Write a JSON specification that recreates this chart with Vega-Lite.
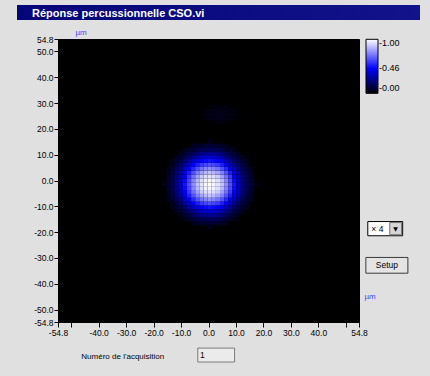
{
  "$schema": "https://vega.github.io/schema/vega-lite/v6.json",
  "padding": {"left": 17, "top": 5, "right": 12, "bottom": 16},
  "background": "#e0e0e0",
  "spacing": 7,
  "vconcat": [
    {
      "width": 403,
      "height": 15,
      "view": {"fill": "#08087e", "stroke": null},
      "title": {"text": "Réponse percussionnelle CSO.vi", "anchor": "start", "frame": "group", "color": "#ffffff", "font": "Liberation Sans", "fontSize": 11, "fontWeight": "bold", "offset": -14, "dx": 15},
      "data": {"values": [{"w": "barre"}]},
      "mark": {"type": "rect", "color": {"gradient": "linear", "x1": 0, "x2": 1, "y1": 0, "y2": 0, "stops": [{"offset": 0, "color": "#05057a"}, {"offset": 1, "color": "#12128a"}]}},
      "encoding": {}
    },
    {
      "spacing": 0,
      "hconcat": [
        {
          "width": 1,
          "height": 283,
          "data": {"values": []},
          "mark": {"type": "rect"},
          "encoding": {}
        },
        {
          "width": 301,
          "height": 283,
          "view": {"fill": "#000000", "stroke": "#000000"},
          "layer": [
            {
              "data": {"values": [
                {"x":-17,"y":-2,"v":0.05},{"x":-15.5,"y":-2,"v":0.095},{"x":-14,"y":-2,"v":0.16},{"x":-12.5,"y":-2,"v":0.26},{"x":-11,"y":-2,"v":0.37},{"x":-9.5,"y":-2,"v":0.50},{"x":-8,"y":-2,"v":0.63},{"x":-6.5,"y":-2,"v":0.76},{"x":-5,"y":-2,"v":0.87},{"x":-3.5,"y":-2,"v":0.94},{"x":-2,"y":-2,"v":0.98},{"x":-0.5,"y":-2,"v":1.00},{"x":1,"y":-2,"v":0.98},{"x":2.5,"y":-2,"v":0.94},{"x":4,"y":-2,"v":0.87},{"x":5.5,"y":-2,"v":0.76},{"x":7,"y":-2,"v":0.63},{"x":8.5,"y":-2,"v":0.50},{"x":10,"y":-2,"v":0.37},{"x":11.5,"y":-2,"v":0.26},{"x":13,"y":-2,"v":0.16},{"x":14.5,"y":-2,"v":0.095},{"x":16,"y":-2,"v":0.05},

                {"x":-15.5,"y":-0.5,"v":0.09},{"x":-14,"y":-0.5,"v":0.15},{"x":-12.5,"y":-0.5,"v":0.25},{"x":-11,"y":-0.5,"v":0.36},{"x":-9.5,"y":-0.5,"v":0.48},{"x":-8,"y":-0.5,"v":0.61},{"x":-6.5,"y":-0.5,"v":0.74},{"x":-5,"y":-0.5,"v":0.85},{"x":-3.5,"y":-0.5,"v":0.93},{"x":-2,"y":-0.5,"v":0.97},{"x":-0.5,"y":-0.5,"v":0.98},{"x":1,"y":-0.5,"v":0.97},{"x":2.5,"y":-0.5,"v":0.93},{"x":4,"y":-0.5,"v":0.85},{"x":5.5,"y":-0.5,"v":0.74},{"x":7,"y":-0.5,"v":0.61},{"x":8.5,"y":-0.5,"v":0.48},{"x":10,"y":-0.5,"v":0.36},{"x":11.5,"y":-0.5,"v":0.25},{"x":13,"y":-0.5,"v":0.15},{"x":14.5,"y":-0.5,"v":0.09},
                {"x":-15.5,"y":-3.5,"v":0.09},{"x":-14,"y":-3.5,"v":0.15},{"x":-12.5,"y":-3.5,"v":0.25},{"x":-11,"y":-3.5,"v":0.36},{"x":-9.5,"y":-3.5,"v":0.48},{"x":-8,"y":-3.5,"v":0.61},{"x":-6.5,"y":-3.5,"v":0.74},{"x":-5,"y":-3.5,"v":0.85},{"x":-3.5,"y":-3.5,"v":0.93},{"x":-2,"y":-3.5,"v":0.97},{"x":-0.5,"y":-3.5,"v":0.98},{"x":1,"y":-3.5,"v":0.97},{"x":2.5,"y":-3.5,"v":0.93},{"x":4,"y":-3.5,"v":0.85},{"x":5.5,"y":-3.5,"v":0.74},{"x":7,"y":-3.5,"v":0.61},{"x":8.5,"y":-3.5,"v":0.48},{"x":10,"y":-3.5,"v":0.36},{"x":11.5,"y":-3.5,"v":0.25},{"x":13,"y":-3.5,"v":0.15},{"x":14.5,"y":-3.5,"v":0.09},

                {"x":-15.5,"y":1,"v":0.08},{"x":-14,"y":1,"v":0.14},{"x":-12.5,"y":1,"v":0.24},{"x":-11,"y":1,"v":0.34},{"x":-9.5,"y":1,"v":0.45},{"x":-8,"y":1,"v":0.58},{"x":-6.5,"y":1,"v":0.70},{"x":-5,"y":1,"v":0.80},{"x":-3.5,"y":1,"v":0.89},{"x":-2,"y":1,"v":0.93},{"x":-0.5,"y":1,"v":0.94},{"x":1,"y":1,"v":0.93},{"x":2.5,"y":1,"v":0.89},{"x":4,"y":1,"v":0.80},{"x":5.5,"y":1,"v":0.70},{"x":7,"y":1,"v":0.58},{"x":8.5,"y":1,"v":0.45},{"x":10,"y":1,"v":0.34},{"x":11.5,"y":1,"v":0.24},{"x":13,"y":1,"v":0.14},{"x":14.5,"y":1,"v":0.08},
                {"x":-15.5,"y":-5,"v":0.08},{"x":-14,"y":-5,"v":0.14},{"x":-12.5,"y":-5,"v":0.24},{"x":-11,"y":-5,"v":0.34},{"x":-9.5,"y":-5,"v":0.45},{"x":-8,"y":-5,"v":0.58},{"x":-6.5,"y":-5,"v":0.70},{"x":-5,"y":-5,"v":0.80},{"x":-3.5,"y":-5,"v":0.89},{"x":-2,"y":-5,"v":0.93},{"x":-0.5,"y":-5,"v":0.94},{"x":1,"y":-5,"v":0.93},{"x":2.5,"y":-5,"v":0.89},{"x":4,"y":-5,"v":0.80},{"x":5.5,"y":-5,"v":0.70},{"x":7,"y":-5,"v":0.58},{"x":8.5,"y":-5,"v":0.45},{"x":10,"y":-5,"v":0.34},{"x":11.5,"y":-5,"v":0.24},{"x":13,"y":-5,"v":0.14},{"x":14.5,"y":-5,"v":0.08},

                {"x":-15.5,"y":2.5,"v":0.07},{"x":-14,"y":2.5,"v":0.13},{"x":-12.5,"y":2.5,"v":0.21},{"x":-11,"y":2.5,"v":0.30},{"x":-9.5,"y":2.5,"v":0.41},{"x":-8,"y":2.5,"v":0.52},{"x":-6.5,"y":2.5,"v":0.63},{"x":-5,"y":2.5,"v":0.73},{"x":-3.5,"y":2.5,"v":0.80},{"x":-2,"y":2.5,"v":0.85},{"x":-0.5,"y":2.5,"v":0.87},{"x":1,"y":2.5,"v":0.85},{"x":2.5,"y":2.5,"v":0.80},{"x":4,"y":2.5,"v":0.73},{"x":5.5,"y":2.5,"v":0.63},{"x":7,"y":2.5,"v":0.52},{"x":8.5,"y":2.5,"v":0.41},{"x":10,"y":2.5,"v":0.30},{"x":11.5,"y":2.5,"v":0.21},{"x":13,"y":2.5,"v":0.13},{"x":14.5,"y":2.5,"v":0.07},
                {"x":-15.5,"y":-6.5,"v":0.07},{"x":-14,"y":-6.5,"v":0.13},{"x":-12.5,"y":-6.5,"v":0.21},{"x":-11,"y":-6.5,"v":0.30},{"x":-9.5,"y":-6.5,"v":0.41},{"x":-8,"y":-6.5,"v":0.52},{"x":-6.5,"y":-6.5,"v":0.63},{"x":-5,"y":-6.5,"v":0.73},{"x":-3.5,"y":-6.5,"v":0.80},{"x":-2,"y":-6.5,"v":0.85},{"x":-0.5,"y":-6.5,"v":0.87},{"x":1,"y":-6.5,"v":0.85},{"x":2.5,"y":-6.5,"v":0.80},{"x":4,"y":-6.5,"v":0.73},{"x":5.5,"y":-6.5,"v":0.63},{"x":7,"y":-6.5,"v":0.52},{"x":8.5,"y":-6.5,"v":0.41},{"x":10,"y":-6.5,"v":0.30},{"x":11.5,"y":-6.5,"v":0.21},{"x":13,"y":-6.5,"v":0.13},{"x":14.5,"y":-6.5,"v":0.07},

                {"x":-15.5,"y":4,"v":0.06},{"x":-14,"y":4,"v":0.10},{"x":-12.5,"y":4,"v":0.17},{"x":-11,"y":4,"v":0.25},{"x":-9.5,"y":4,"v":0.35},{"x":-8,"y":4,"v":0.44},{"x":-6.5,"y":4,"v":0.54},{"x":-5,"y":4,"v":0.63},{"x":-3.5,"y":4,"v":0.70},{"x":-2,"y":4,"v":0.74},{"x":-0.5,"y":4,"v":0.76},{"x":1,"y":4,"v":0.74},{"x":2.5,"y":4,"v":0.70},{"x":4,"y":4,"v":0.63},{"x":5.5,"y":4,"v":0.54},{"x":7,"y":4,"v":0.44},{"x":8.5,"y":4,"v":0.35},{"x":10,"y":4,"v":0.25},{"x":11.5,"y":4,"v":0.17},{"x":13,"y":4,"v":0.10},{"x":14.5,"y":4,"v":0.06},
                {"x":-15.5,"y":-8,"v":0.06},{"x":-14,"y":-8,"v":0.10},{"x":-12.5,"y":-8,"v":0.17},{"x":-11,"y":-8,"v":0.25},{"x":-9.5,"y":-8,"v":0.35},{"x":-8,"y":-8,"v":0.44},{"x":-6.5,"y":-8,"v":0.54},{"x":-5,"y":-8,"v":0.63},{"x":-3.5,"y":-8,"v":0.70},{"x":-2,"y":-8,"v":0.74},{"x":-0.5,"y":-8,"v":0.76},{"x":1,"y":-8,"v":0.74},{"x":2.5,"y":-8,"v":0.70},{"x":4,"y":-8,"v":0.63},{"x":5.5,"y":-8,"v":0.54},{"x":7,"y":-8,"v":0.44},{"x":8.5,"y":-8,"v":0.35},{"x":10,"y":-8,"v":0.25},{"x":11.5,"y":-8,"v":0.17},{"x":13,"y":-8,"v":0.10},{"x":14.5,"y":-8,"v":0.06},

                {"x":-14,"y":5.5,"v":0.076},{"x":-12.5,"y":5.5,"v":0.13},{"x":-11,"y":5.5,"v":0.20},{"x":-9.5,"y":5.5,"v":0.28},{"x":-8,"y":5.5,"v":0.36},{"x":-6.5,"y":5.5,"v":0.44},{"x":-5,"y":5.5,"v":0.52},{"x":-3.5,"y":5.5,"v":0.58},{"x":-2,"y":5.5,"v":0.61},{"x":-0.5,"y":5.5,"v":0.63},{"x":1,"y":5.5,"v":0.61},{"x":2.5,"y":5.5,"v":0.58},{"x":4,"y":5.5,"v":0.52},{"x":5.5,"y":5.5,"v":0.44},{"x":7,"y":5.5,"v":0.36},{"x":8.5,"y":5.5,"v":0.28},{"x":10,"y":5.5,"v":0.20},{"x":11.5,"y":5.5,"v":0.13},{"x":13,"y":5.5,"v":0.076},
                {"x":-14,"y":-9.5,"v":0.076},{"x":-12.5,"y":-9.5,"v":0.13},{"x":-11,"y":-9.5,"v":0.20},{"x":-9.5,"y":-9.5,"v":0.28},{"x":-8,"y":-9.5,"v":0.36},{"x":-6.5,"y":-9.5,"v":0.44},{"x":-5,"y":-9.5,"v":0.52},{"x":-3.5,"y":-9.5,"v":0.58},{"x":-2,"y":-9.5,"v":0.61},{"x":-0.5,"y":-9.5,"v":0.63},{"x":1,"y":-9.5,"v":0.61},{"x":2.5,"y":-9.5,"v":0.58},{"x":4,"y":-9.5,"v":0.52},{"x":5.5,"y":-9.5,"v":0.44},{"x":7,"y":-9.5,"v":0.36},{"x":8.5,"y":-9.5,"v":0.28},{"x":10,"y":-9.5,"v":0.20},{"x":11.5,"y":-9.5,"v":0.13},{"x":13,"y":-9.5,"v":0.076},

                {"x":-14,"y":7,"v":0.057},{"x":-12.5,"y":7,"v":0.095},{"x":-11,"y":7,"v":0.14},{"x":-9.5,"y":7,"v":0.21},{"x":-8,"y":7,"v":0.28},{"x":-6.5,"y":7,"v":0.35},{"x":-5,"y":7,"v":0.41},{"x":-3.5,"y":7,"v":0.45},{"x":-2,"y":7,"v":0.48},{"x":-0.5,"y":7,"v":0.50},{"x":1,"y":7,"v":0.48},{"x":2.5,"y":7,"v":0.45},{"x":4,"y":7,"v":0.41},{"x":5.5,"y":7,"v":0.35},{"x":7,"y":7,"v":0.28},{"x":8.5,"y":7,"v":0.21},{"x":10,"y":7,"v":0.14},{"x":11.5,"y":7,"v":0.095},{"x":13,"y":7,"v":0.057},
                {"x":-14,"y":-11,"v":0.057},{"x":-12.5,"y":-11,"v":0.095},{"x":-11,"y":-11,"v":0.14},{"x":-9.5,"y":-11,"v":0.21},{"x":-8,"y":-11,"v":0.28},{"x":-6.5,"y":-11,"v":0.35},{"x":-5,"y":-11,"v":0.41},{"x":-3.5,"y":-11,"v":0.45},{"x":-2,"y":-11,"v":0.48},{"x":-0.5,"y":-11,"v":0.50},{"x":1,"y":-11,"v":0.48},{"x":2.5,"y":-11,"v":0.45},{"x":4,"y":-11,"v":0.41},{"x":5.5,"y":-11,"v":0.35},{"x":7,"y":-11,"v":0.28},{"x":8.5,"y":-11,"v":0.21},{"x":10,"y":-11,"v":0.14},{"x":11.5,"y":-11,"v":0.095},{"x":13,"y":-11,"v":0.057},

                {"x":-12.5,"y":8.5,"v":0.063},{"x":-11,"y":8.5,"v":0.10},{"x":-9.5,"y":8.5,"v":0.14},{"x":-8,"y":8.5,"v":0.20},{"x":-6.5,"y":8.5,"v":0.25},{"x":-5,"y":8.5,"v":0.30},{"x":-3.5,"y":8.5,"v":0.34},{"x":-2,"y":8.5,"v":0.36},{"x":-0.5,"y":8.5,"v":0.37},{"x":1,"y":8.5,"v":0.36},{"x":2.5,"y":8.5,"v":0.34},{"x":4,"y":8.5,"v":0.30},{"x":5.5,"y":8.5,"v":0.25},{"x":7,"y":8.5,"v":0.20},{"x":8.5,"y":8.5,"v":0.14},{"x":10,"y":8.5,"v":0.10},{"x":11.5,"y":8.5,"v":0.063},
                {"x":-12.5,"y":-12.5,"v":0.063},{"x":-11,"y":-12.5,"v":0.10},{"x":-9.5,"y":-12.5,"v":0.14},{"x":-8,"y":-12.5,"v":0.20},{"x":-6.5,"y":-12.5,"v":0.25},{"x":-5,"y":-12.5,"v":0.30},{"x":-3.5,"y":-12.5,"v":0.34},{"x":-2,"y":-12.5,"v":0.36},{"x":-0.5,"y":-12.5,"v":0.37},{"x":1,"y":-12.5,"v":0.36},{"x":2.5,"y":-12.5,"v":0.34},{"x":4,"y":-12.5,"v":0.30},{"x":5.5,"y":-12.5,"v":0.25},{"x":7,"y":-12.5,"v":0.20},{"x":8.5,"y":-12.5,"v":0.14},{"x":10,"y":-12.5,"v":0.10},{"x":11.5,"y":-12.5,"v":0.063},

                {"x":-11,"y":10,"v":0.063},{"x":-9.5,"y":10,"v":0.095},{"x":-8,"y":10,"v":0.13},{"x":-6.5,"y":10,"v":0.17},{"x":-5,"y":10,"v":0.21},{"x":-3.5,"y":10,"v":0.24},{"x":-2,"y":10,"v":0.25},{"x":-0.5,"y":10,"v":0.26},{"x":1,"y":10,"v":0.25},{"x":2.5,"y":10,"v":0.24},{"x":4,"y":10,"v":0.21},{"x":5.5,"y":10,"v":0.17},{"x":7,"y":10,"v":0.13},{"x":8.5,"y":10,"v":0.095},{"x":10,"y":10,"v":0.063},
                {"x":-11,"y":-14,"v":0.063},{"x":-9.5,"y":-14,"v":0.095},{"x":-8,"y":-14,"v":0.13},{"x":-6.5,"y":-14,"v":0.17},{"x":-5,"y":-14,"v":0.21},{"x":-3.5,"y":-14,"v":0.24},{"x":-2,"y":-14,"v":0.25},{"x":-0.5,"y":-14,"v":0.26},{"x":1,"y":-14,"v":0.25},{"x":2.5,"y":-14,"v":0.24},{"x":4,"y":-14,"v":0.21},{"x":5.5,"y":-14,"v":0.17},{"x":7,"y":-14,"v":0.13},{"x":8.5,"y":-14,"v":0.095},{"x":10,"y":-14,"v":0.063},

                {"x":-9.5,"y":11.5,"v":0.057},{"x":-8,"y":11.5,"v":0.076},{"x":-6.5,"y":11.5,"v":0.10},{"x":-5,"y":11.5,"v":0.13},{"x":-3.5,"y":11.5,"v":0.14},{"x":-2,"y":11.5,"v":0.15},{"x":-0.5,"y":11.5,"v":0.16},{"x":1,"y":11.5,"v":0.15},{"x":2.5,"y":11.5,"v":0.14},{"x":4,"y":11.5,"v":0.13},{"x":5.5,"y":11.5,"v":0.10},{"x":7,"y":11.5,"v":0.076},{"x":8.5,"y":11.5,"v":0.057},
                {"x":-9.5,"y":-15.5,"v":0.057},{"x":-8,"y":-15.5,"v":0.076},{"x":-6.5,"y":-15.5,"v":0.10},{"x":-5,"y":-15.5,"v":0.13},{"x":-3.5,"y":-15.5,"v":0.14},{"x":-2,"y":-15.5,"v":0.15},{"x":-0.5,"y":-15.5,"v":0.16},{"x":1,"y":-15.5,"v":0.15},{"x":2.5,"y":-15.5,"v":0.14},{"x":4,"y":-15.5,"v":0.13},{"x":5.5,"y":-15.5,"v":0.10},{"x":7,"y":-15.5,"v":0.076},{"x":8.5,"y":-15.5,"v":0.057},

                {"x":-6.5,"y":13,"v":0.06},{"x":-5,"y":13,"v":0.07},{"x":-3.5,"y":13,"v":0.08},{"x":-2,"y":13,"v":0.09},{"x":-0.5,"y":13,"v":0.095},{"x":1,"y":13,"v":0.09},{"x":2.5,"y":13,"v":0.08},{"x":4,"y":13,"v":0.07},{"x":5.5,"y":13,"v":0.06},
                {"x":-6.5,"y":-17,"v":0.06},{"x":-5,"y":-17,"v":0.07},{"x":-3.5,"y":-17,"v":0.08},{"x":-2,"y":-17,"v":0.09},{"x":-0.5,"y":-17,"v":0.095},{"x":1,"y":-17,"v":0.09},{"x":2.5,"y":-17,"v":0.08},{"x":4,"y":-17,"v":0.07},{"x":5.5,"y":-17,"v":0.06},

                {"x":-0.5,"y":14.5,"v":0.05},
                {"x":-0.5,"y":-18.5,"v":0.05},

                {"x":-3.5,"y":25,"v":0.025},{"x":-2,"y":25,"v":0.032},{"x":-0.5,"y":25,"v":0.04},{"x":1,"y":25,"v":0.046},{"x":2.5,"y":25,"v":0.05},{"x":4,"y":25,"v":0.05},{"x":5.5,"y":25,"v":0.046},{"x":7,"y":25,"v":0.04},{"x":8.5,"y":25,"v":0.032},{"x":10,"y":25,"v":0.025},
                {"x":-2,"y":23.5,"v":0.026},{"x":-0.5,"y":23.5,"v":0.032},{"x":1,"y":23.5,"v":0.037},{"x":2.5,"y":23.5,"v":0.04},{"x":4,"y":23.5,"v":0.04},{"x":5.5,"y":23.5,"v":0.037},{"x":7,"y":23.5,"v":0.032},{"x":8.5,"y":23.5,"v":0.026},
                {"x":-2,"y":26.5,"v":0.026},{"x":-0.5,"y":26.5,"v":0.032},{"x":1,"y":26.5,"v":0.037},{"x":2.5,"y":26.5,"v":0.04},{"x":4,"y":26.5,"v":0.04},{"x":5.5,"y":26.5,"v":0.037},{"x":7,"y":26.5,"v":0.032},{"x":8.5,"y":26.5,"v":0.026},
                {"x":1,"y":22,"v":0.025},{"x":2.5,"y":22,"v":0.028},{"x":4,"y":22,"v":0.028},{"x":5.5,"y":22,"v":0.025},
                {"x":1,"y":28,"v":0.025},{"x":2.5,"y":28,"v":0.028},{"x":4,"y":28,"v":0.028},{"x":5.5,"y":28,"v":0.025}
              ]},
              "mark": {"type": "rect"},
              "encoding": {
                "x": {
                  "field": "x", "type": "quantitative",
                  "bin": {"binned": true, "step": 1.5},
                  "scale": {"domain": [-54.8, 54.8], "nice": false, "zero": false},
                  "axis": {
                    "title": "µm",
                    "values": [-54.8, -50, -40, -30, -20, -10, 0, 10, 20, 30, 40, 50, 54.8],
                    "format": ".1f",
                    "labelExpr": "abs(datum.value) == 50 ? '' : datum.label",
                    "tickSize": 5,
                    "labelPadding": 1,
                    "titleX": 306,
                    "titleY": -24,
                    "titleAlign": "left",
                    "titleAnchor": "start",
                    "titleBaseline": "alphabetic"
                  }
                },
                "y": {
                  "field": "y", "type": "quantitative",
                  "bin": {"binned": true, "step": 1.5},
                  "scale": {"domain": [-54.8, 54.8], "nice": false, "zero": false},
                  "axis": {
                    "title": "µm",
                    "values": [-54.8, -50, -40, -30, -20, -10, 0, 10, 20, 30, 40, 50, 54.8],
                    "format": ".1f",
                    "tickSize": 4,
                    "labelPadding": 1,
                    "minExtent": 39,
                    "maxExtent": 39,
                    "titleAngle": 0,
                    "titleX": 17,
                    "titleY": -5,
                    "titleAlign": "left",
                    "titleAnchor": "end",
                    "titleBaseline": "alphabetic"
                  }
                },
                "color": {
                  "field": "v", "type": "quantitative",
                  "scale": {"domain": [0, 0.46, 1], "range": ["#000000", "#0000ff", "#ffffff"], "clamp": true, "interpolate": "rgb"},
                  "legend": {
                    "type": "gradient",
                    "orient": "none", "legendX": 349, "legendY": 34.3,
                    "direction": "vertical", "title": null,
                    "gradientLength": 54, "gradientThickness": 12,
                    "gradientStrokeColor": "#000000", "gradientStrokeWidth": 1,
                    "values": [0, 0.46, 1], "format": ".2f",
                    "labelExpr": "'-' + datum.label",
                    "labelFont": "Liberation Sans", "labelFontSize": 9, "labelColor": "#000000",
                    "labelOffset": 1, "padding": 0
                  }
                }
              }
            },
            {
              "data": {"values": [{"t": "Numéro de l'acquisition"}]},
              "mark": {"type": "text", "align": "left", "baseline": "middle", "font": "Liberation Sans", "fontSize": 8, "color": "#000000"},
              "encoding": {"text": {"field": "t"}, "x": {"datum": -46.3}, "y": {"datum": -68.3}}
            },
            {
              "data": {"values": [{"t": "1"}]},
              "layer": [
                {
                  "mark": {"type": "rect", "fill": "#ebebeb", "stroke": "#7a7a7a", "strokeWidth": 1},
                  "encoding": {"x": {"datum": -3.9}, "x2": {"datum": 9.5}, "y": {"datum": -64.9}, "y2": {"datum": -70.3}}
                },
                {
                  "mark": {"type": "text", "align": "left", "baseline": "middle", "font": "Liberation Sans", "fontSize": 8.5, "color": "#000000"},
                  "encoding": {"text": {"field": "t"}, "x": {"datum": -3.1}, "y": {"datum": -67.7}}
                }
              ]
            },
            {
              "data": {"values": [{"t": "× 4", "a": "▼"}]},
              "layer": [
                {
                  "mark": {"type": "rect", "fill": "#ffffff", "stroke": "#000000", "strokeWidth": 1},
                  "encoding": {"x": {"datum": 58.0}, "x2": {"datum": 70.7}, "y": {"datum": -15.9}, "y2": {"datum": -21.4}}
                },
                {
                  "mark": {"type": "rect", "fill": "#d6d6d6", "stroke": "#707070", "strokeWidth": 1},
                  "encoding": {"x": {"datum": 66.0}, "x2": {"datum": 70.3}, "y": {"datum": -16.3}, "y2": {"datum": -21.0}}
                },
                {
                  "mark": {"type": "text", "align": "left", "baseline": "middle", "font": "Liberation Sans", "fontSize": 8.5, "color": "#000000"},
                  "encoding": {"text": {"field": "t"}, "x": {"datum": 59.3}, "y": {"datum": -18.6}}
                },
                {
                  "mark": {"type": "text", "align": "center", "baseline": "middle", "font": "DejaVu Sans", "fontSize": 6, "color": "#000000"},
                  "encoding": {"text": {"field": "a"}, "x": {"datum": 68.15}, "y": {"datum": -18.7}}
                }
              ]
            },
            {
              "data": {"values": [{"t": "Setup"}]},
              "layer": [
                {
                  "mark": {"type": "rect", "fill": "#e4e4e4", "stroke": "#3a3a3a", "strokeWidth": 1},
                  "encoding": {"x": {"datum": 57.3}, "x2": {"datum": 72.6}, "y": {"datum": -29.8}, "y2": {"datum": -35.9}}
                },
                {
                  "mark": {"type": "text", "align": "center", "baseline": "middle", "font": "Liberation Sans", "fontSize": 8.5, "color": "#000000"},
                  "encoding": {"text": {"field": "t"}, "x": {"datum": 64.95}, "y": {"datum": -32.9}}
                }
              ]
            }
          ]
        }
      ]
    }
  ],
  "config": {
    "view": {"stroke": null},
    "font": "Liberation Sans",
    "locale": {"number": {"decimal": ".", "thousands": ",", "grouping": [3], "currency": ["", ""], "minus": "-"}},
    "axis": {
      "domain": false, "grid": false,
      "labelFont": "Liberation Sans", "labelFontSize": 8.5, "labelColor": "#000000",
      "tickColor": "#000000", "tickWidth": 1,
      "labelOverlap": false, "labelFlush": false,
      "titleFont": "Liberation Sans", "titleFontSize": 8, "titleFontWeight": "normal", "titleColor": "#4646ff"
    }
  }
}
